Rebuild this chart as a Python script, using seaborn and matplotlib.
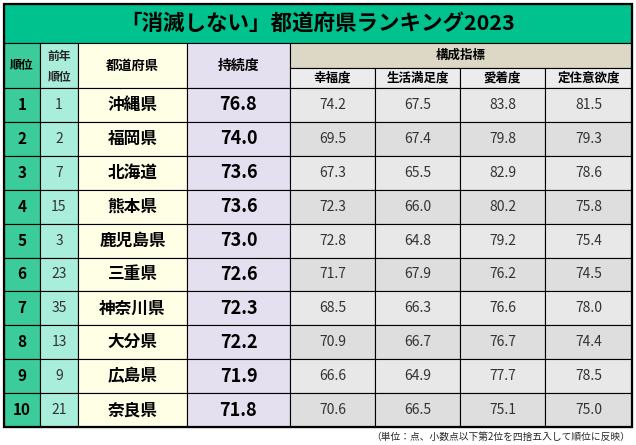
import matplotlib
matplotlib.use("Agg")
import matplotlib.pyplot as plt
from matplotlib.patches import Rectangle
import seaborn as sns

sns.set_style("white")
plt.rcParams["font.family"] = "Noto Sans CJK JP"

title = "「消滅しない」都道府県ランキング2023"
ranks = [1, 2, 3, 4, 5, 6, 7, 8, 9, 10]
prev_ranks = [1, 2, 7, 15, 3, 23, 35, 13, 9, 21]
prefs = ["沖縄県", "福岡県", "北海道", "熊本県", "鹿児島県", "三重県", "神奈川県", "大分県", "広島県", "奈良県"]
sustain = [76.8, 74.0, 73.6, 73.6, 73.0, 72.6, 72.3, 72.2, 71.9, 71.8]
happiness = [74.2, 69.5, 67.3, 72.3, 72.8, 71.7, 68.5, 70.9, 66.6, 70.6]
life_sat = [67.5, 67.4, 65.5, 66.0, 64.8, 67.9, 66.3, 66.7, 64.9, 66.5]
attach = [83.8, 79.8, 82.9, 80.2, 79.2, 76.2, 76.6, 76.7, 77.7, 75.1]
settle = [81.5, 79.3, 78.6, 75.8, 75.4, 74.5, 78.0, 74.4, 78.5, 75.0]
sub_headers = ["幸福度", "生活満足度", "愛着度", "定住意欲度"]
note = "（単位：点、小数点以下第2位を四捨五入して順位に反映）"

W, H = 636, 445
fig = plt.figure(figsize=(W/100, H/100), dpi=100)
ax = fig.add_axes([0, 0, 1, 1])
ax.set_xlim(0, W); ax.set_ylim(H, 0); ax.axis("off")

xs = [4, 40, 78, 187, 290, 375, 460, 545, 632]
y_title, y_h1, y_h2, y_data = 4, 43, 68, 88
y_end = 427
rh = (y_end - y_data) / 10

def cell(x0, x1, y0, y1, fc, text="", size=10, bold=False, color="black"):
    ax.add_patch(Rectangle((x0, y0), x1-x0, y1-y0, facecolor=fc, edgecolor="black", lw=0.8))
    if text != "":
        ax.text((x0+x1)/2, (y0+y1)/2, text, ha="center", va="center", fontsize=size,
                fontweight="bold" if bold else "normal", color=color)

cell(xs[0], xs[-1], y_title, y_h1, "#00C28E", title, 15.5, True)
cell(xs[0], xs[1], y_h1, y_data, "#3CCB9B", "順位", 8.5, True)
cell(xs[1], xs[2], y_h1, y_data, "#A9EEDB")
ax.text((xs[1]+xs[2])/2, 56, "前年", ha="center", va="center", fontsize=8.5, fontweight="bold")
ax.text((xs[1]+xs[2])/2, 77, "順位", ha="center", va="center", fontsize=8.5, fontweight="bold")
cell(xs[2], xs[3], y_h1, y_data, "#FFFFE6", "都道府県", 9.5, True)
cell(xs[3], xs[4], y_h1, y_data, "#E4E0F0", "持続度", 10, True)
cell(xs[4], xs[8], y_h1, y_h2, "#DDD8C6", "構成指標", 9, True)
for i, s in enumerate(sub_headers):
    cell(xs[4+i], xs[5+i], y_h2, y_data, "#ECECEC", s, 9, True)

for r in range(10):
    y0 = y_data + r*rh; y1 = y0 + rh
    comp_fc = "#E8E8E8" if r % 2 == 0 else "#DEDEDE"
    cell(xs[0], xs[1], y0, y1, "#3CCB9B", str(ranks[r]), 11, True)
    cell(xs[1], xs[2], y0, y1, "#A9EEDB", str(prev_ranks[r]), 10, False, "#333333")
    cell(xs[2], xs[3], y0, y1, "#FFFFE6", prefs[r], 12, True)
    cell(xs[3], xs[4], y0, y1, "#E4E0F0", f"{sustain[r]:.1f}", 13, True)
    for i, arr in enumerate([happiness, life_sat, attach, settle]):
        cell(xs[4+i], xs[5+i], y0, y1, comp_fc, f"{arr[r]:.1f}", 10, False, "#333333")

ax.add_patch(Rectangle((xs[0], y_title), xs[-1]-xs[0], y_end-y_title, fill=False, edgecolor="black", lw=1.6))
ax.text(630, 437, note, ha="right", va="center", fontsize=7)
fig.savefig("out.png", dpi=100)
